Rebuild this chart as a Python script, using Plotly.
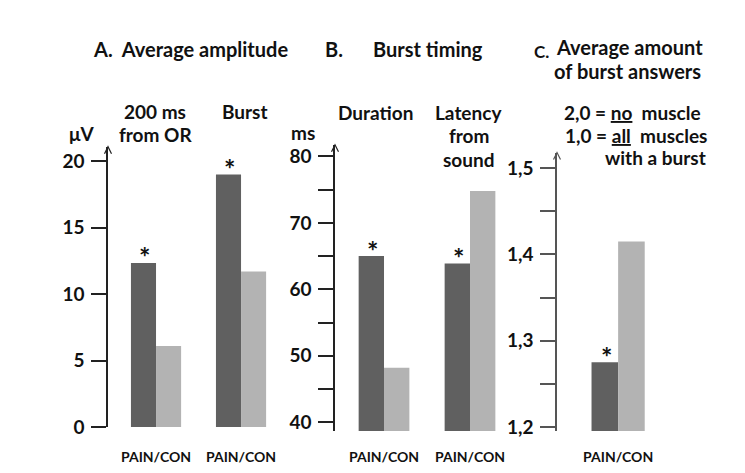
import plotly.graph_objects as go

W, H = 745, 473
XOFF = 8  # horizontal page body margin
FW, FH = W - XOFF, H
YOFF = 6  # vertical text metric correction

# ---- data ----
cats_a = ["200 ms", "Burst"]
pain_a = [12.35, 19.0]
con_a = [6.1, 11.7]

cats_b = ["Duration", "Latency"]
pain_b = [65.0, 63.9]
con_b = [48.2, 74.8]

cats_c = ["Answers"]
pain_c = [1.275]
con_c = [1.415]

xlabel = "PAIN/CON"
ticks_a = [0, 5, 10, 15, 20]
ticks_b = [40, 45, 50, 55, 60, 65, 70, 75, 80]
ticks_b_text = ["40", "", "50", "", "60", "", "70", "", "80"]
ticks_c = [1.2, 1.25, 1.3, 1.35, 1.4, 1.45, 1.5]
ticks_c_text = ["1,2", "", "1,3", "", "1,4", "", "1,5"]

DARK = "#606060"
LIGHT = "#b3b3b3"
FONT = "Lato"


def px(x):
    return (x - XOFF) / FW


def py(y):
    return 1 - y / FH


fig = go.Figure()

panels = [
    ("x", "y", cats_a, pain_a, con_a),
    ("x2", "y2", cats_b, pain_b, con_b),
    ("x3", "y3", cats_c, pain_c, con_c),
]
for xa, ya, cats, p, c in panels:
    fig.add_trace(go.Bar(x=cats, y=p, marker=dict(color=DARK, line=dict(width=0)),
                         xaxis=xa, yaxis=ya, showlegend=False))
    fig.add_trace(go.Bar(x=cats, y=c, marker=dict(color=LIGHT, line=dict(width=0)),
                         xaxis=xa, yaxis=ya, showlegend=False))

tickfont = dict(family=FONT, size=19, color="#111", weight=700)
xfont = dict(family=FONT, size=14, color="#111", weight=700)


def xaxis(domain, rng, anchor, cats, tl):
    return dict(domain=domain, range=rng, anchor=anchor, showline=False,
                showgrid=False, zeroline=False, ticks="outside", ticklen=tl,
                tickcolor="rgba(0,0,0,0)", tickfont=xfont,
                tickmode="array", tickvals=cats, ticktext=[xlabel] * len(cats),
                fixedrange=True)


def yaxis(domain, rng, anchor, tv, tt, color):
    return dict(domain=domain, range=rng, anchor=anchor, showline=True,
                linecolor=color, linewidth=1.5, showgrid=False, zeroline=False,
                ticks="outside", ticklen=15, tickwidth=1.5, tickcolor=color,
                tickmode="array", tickvals=tv, ticktext=tt, tickfont=tickfont,
                ticklabelstandoff=3)


fig.update_layout(
    width=FW, height=FH, margin=dict(l=0, r=0, t=0, b=0),
    plot_bgcolor="white", paper_bgcolor="white",
    barmode="group", bargap=0.41, bargroupgap=0,
    xaxis=xaxis([px(108), px(290)], [-0.565, 1.576], "y", cats_a, 17),
    yaxis=yaxis([py(429), py(142)], [0, 21.1], "x", ticks_a,
                [str(v) for v in ticks_a], "#222"),
    xaxis2=xaxis([px(335), px(513)], [-0.57, 1.5], "y2", cats_b, 13),
    yaxis2=yaxis([py(433), py(140)], [38.68, 81.76], "x2", ticks_b,
                 ticks_b_text, "#222"),
    xaxis3=xaxis([px(557), px(720)], [-0.678, 1.13], "y3", cats_c, 13),
    yaxis3=yaxis([py(433), py(148)], [1.1955, 1.518], "x3", ticks_c,
                 ticks_c_text, "#555"),
)

# arrowheads at top of y axes
for xdom, ytop, col in [(108, 142, "#222"), (335, 140, "#222"), (557, 148, "#555")]:
    fig.add_shape(type="path", xref="paper", yref="paper",
                  xsizemode="pixel", ysizemode="pixel",
                  xanchor=px(xdom), yanchor=py(ytop),
                  path="M -3.5,-7 L 0,0 L 3.5,-7",
                  line=dict(color=col, width=1.2))

# significance asterisks above PAIN bars
for xa, ya, cats, p in [("x", "y", cats_a, pain_a), ("x2", "y2", cats_b, pain_b),
                        ("x3", "y3", cats_c, pain_c)]:
    for cat, v in zip(cats, p):
        fig.add_annotation(x=cat, y=v, xref=xa, yref=ya, text="*",
                           showarrow=False, xshift=-12, yanchor="middle", yshift=6,
                           font=dict(family=FONT, size=27, color="#111", weight=700))


def label(text, x, y, size=19):
    fig.add_annotation(x=px(x), y=py(y - YOFF), xref="paper", yref="paper", text=text,
                       showarrow=False, xanchor="center", yanchor="middle",
                       font=dict(family=FONT, size=size, color="#111", weight=700))


label("A.&nbsp;&nbsp;Average amplitude", 190.5, 48, size=20)
label("B.", 334, 48, size=20)
label("Burst timing", 427.5, 48, size=20)
label("C.", 541, 51, size=17)
label("Average amount", 629.5, 46, size=20)
label("of burst answers", 627, 71, size=20)

label("200 ms", 155, 112)
label("from OR", 155.5, 136)
label("Burst", 244.5, 112)
label("μV", 81, 134)
label("ms", 303, 133)
label("Duration", 375, 113)
label("Latency", 468.5, 113)
label("from", 468.5, 137)
label("sound", 468.5, 161)

label("2,0 = <u>no</u>&nbsp;&nbsp;muscle", 632, 113)
label("1,0 = <u>all</u>&nbsp;&nbsp;muscles", 636, 137)
label("with a burst", 655, 159)

fig.write_html("out.html")
